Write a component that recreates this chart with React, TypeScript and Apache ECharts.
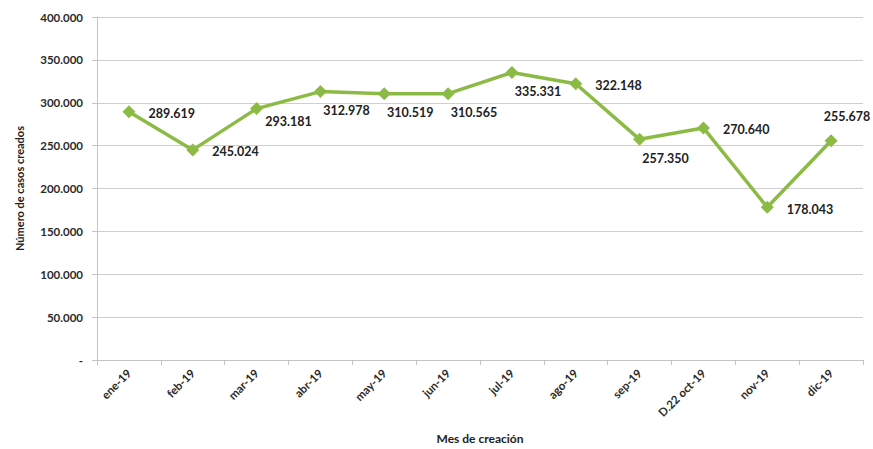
import React, { useEffect, useRef } from "react";
import * as echarts from "echarts";

const categories = ["ene-19", "feb-19", "mar-19", "abr-19", "may-19", "jun-19", "jul-19", "ago-19", "sep-19", "D.22 oct-19", "nov-19", "dic-19"];
const values = [289619, 245024, 293181, 312978, 310519, 310565, 335331, 322148, 257350, 270640, 178043, 255678];
const labelPlacement = ["right", "right", "belowRight", "below", "below", "below", "below", "right", "below", "right", "right", "above"];

const fmt = (v: number) => {
  if (v === 0) return "-";
  const s = Math.round(v).toString();
  return s.replace(/\B(?=(\d{3})+(?!\d))/g, ".");
};

const placementStyle = (p: string) => {
  switch (p) {
    case "right":
      return { position: "right", offset: [8, 2] };
    case "belowRight":
      return { position: "bottom", offset: [32, -5] };
    case "below":
      return { position: "bottom", offset: [26, 1] };
    case "above":
      return { position: "top", offset: [16, -6] };
    default:
      return { position: "right" };
  }
};

export default function App() {
  const ref = useRef<HTMLDivElement>(null);
  useEffect(() => {
    if (!ref.current) return;
    const chart = echarts.init(ref.current, null, { renderer: "svg" });
    const font = "Lato, 'Open Sans', sans-serif";
    chart.setOption({
      animation: false,
      backgroundColor: "#ffffff",
      textStyle: { fontFamily: font },
      grid: { left: 97, right: 10, top: 17, bottom: 88, containLabel: false },
      xAxis: {
        type: "category",
        data: categories,
        boundaryGap: true,
        name: "Mes de creación",
        nameLocation: "middle",
        nameGap: 72,
        nameTextStyle: { fontFamily: font, fontWeight: "bold", fontSize: 12, color: "#222" },
        axisLine: { lineStyle: { color: "#c4c4c4", width: 1 } },
        axisTick: { show: true, alignWithLabel: false, length: 5, lineStyle: { color: "#c4c4c4" } },
        axisLabel: { rotate: 45, fontFamily: font, fontWeight: "bold", fontSize: 11.5, color: "#2a2a2a", margin: 11, interval: 0 },
        splitLine: { show: false },
      },
      yAxis: {
        type: "value",
        min: 0,
        max: 400000,
        interval: 50000,
        name: "Número de casos creados",
        nameLocation: "middle",
        nameGap: 72,
        nameRotate: 90,
        nameTextStyle: { fontFamily: font, fontWeight: "bold", fontSize: 11, color: "#222" },
        axisLine: { show: true, lineStyle: { color: "#c4c4c4", width: 1 } },
        axisTick: { show: true, length: 5, lineStyle: { color: "#c4c4c4" } },
        axisLabel: { formatter: (v: number) => fmt(v), fontFamily: font, fontWeight: "bold", fontSize: 11.5, color: "#2a2a2a", margin: 14 },
        splitLine: { show: true, lineStyle: { color: "#cfcfcf", width: 1 } },
      },
      series: [
        {
          type: "line",
          data: values.map((v, i) => ({
            value: v,
            label: { show: true, ...placementStyle(labelPlacement[i]) },
          })),
          symbol: "diamond",
          symbolSize: 13,
          lineStyle: { color: "#8cbb45", width: 3.5 },
          itemStyle: { color: "#8cbb45" },
          label: {
            show: true,
            formatter: (p: any) => fmt(p.value),
            fontFamily: font,
            fontWeight: "bold",
            fontSize: 12.5,
            color: "#222",
          },
        },
      ],
    });
    return () => chart.dispose();
  }, []);
  return <div ref={ref} style={{ width: 873, height: 449, position: "absolute", left: 0, top: 0 }} />;
}
